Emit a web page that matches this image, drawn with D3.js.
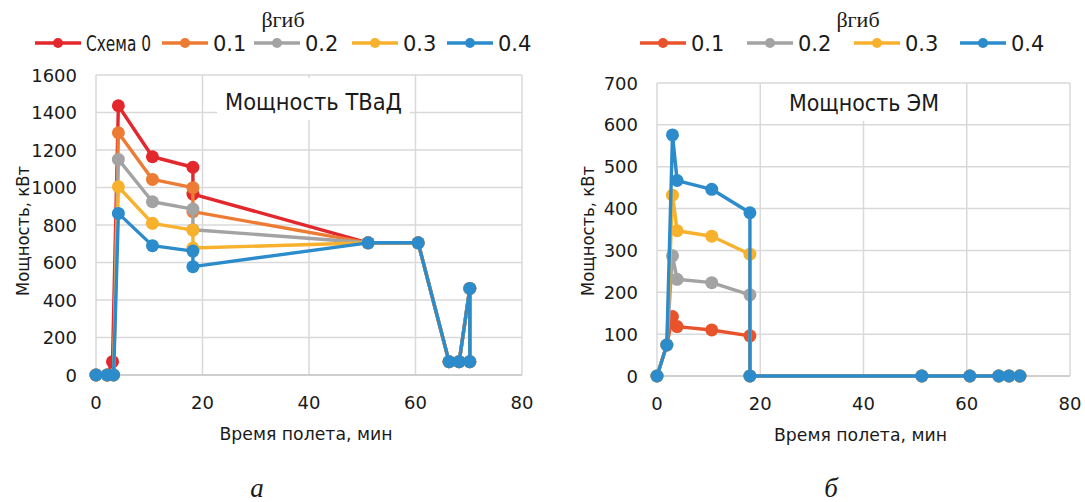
<!DOCTYPE html>
<html>
<head>
<meta charset="utf-8">
<script src="https://cdn.jsdelivr.net/npm/d3@7"></script>
<style>
  body { margin: 0; background: #fff; }
  text { font-family: "DejaVu Sans", sans-serif; fill: #1a1a1a; }
  .serif { font-family: "Liberation Serif", "DejaVu Serif", serif; }
</style>
</head>
<body>
<div id="chart"></div>
<script>
// ---- data: panel a (ТВаД power) ----
var xTicks = [0, 20, 40, 60, 80]
var tvadTicks = [0, 200, 400, 600, 800, 1000, 1200, 1400, 1600]
var tvadTimeRed = [0, 2.1, 3.1, 4.2, 10.6, 18.2, 18.2, 51.1, 60.5, 66.3, 68.2, 70.2, 70.2]
var tvadTime = [0, 2.1, 3.3, 4.2, 10.6, 18.2, 18.2, 51.1, 60.5, 66.3, 68.2, 70.2, 70.2]
var tvadScheme0 = [0, 0, 71, 1436, 1164, 1108, 965, 705, 705, 71, 71, 462, 71]
var tvad01 = [0, 0, 0, 1292, 1043, 999, 871, 705, 705, 71, 71, 462, 71]
var tvad02 = [0, 0, 0, 1150, 924, 885, 775, 705, 705, 71, 71, 462, 71]
var tvad03 = [0, 0, 0, 1004, 809, 773, 677, 705, 705, 71, 71, 462, 71]
var tvad04 = [0, 0, 0, 862, 690, 661, 578, 705, 705, 71, 71, 462, 71]

// ---- data: panel б (ЭМ power) ----
var emTicks = [0, 100, 200, 300, 400, 500, 600, 700]
var emTime = [0, 1.9, 3.0, 3.9, 10.6, 18.0, 18.0, 51.3, 60.6, 66.2, 68.2, 70.3]
var em01 = [0, 74, 142, 118, 110, 96, 0, 0, 0, 0, 0, 0]
var em02 = [0, 74, 287, 231, 223, 194, 0, 0, 0, 0, 0, 0]
var em03 = [0, 74, 432, 347, 334, 291, 0, 0, 0, 0, 0, 0]
var em04 = [0, 74, 576, 467, 446, 390, 0, 0, 0, 0, 0, 0]

var cRed = "#e3282d", cOrange = "#ec7b34", cGrey = "#a3a3a3", cYellow = "#f7b12c", cBlue = "#2b8bcb"
var cRed2 = "#e8532c"

var W = 1085, H = 502

var svg = d3.select("#chart").append("svg")
    .attr("width", W)
    .attr("height", H)

svg.append("rect").attr("width", W).attr("height", H).attr("fill", "#fff")

function zip(xs, ys) {
    return xs.map(function(x, i) { return [x, ys[i]] })
}

function panel(p) {
    var g = svg.append("g")
    var x = d3.scaleLinear().domain([0, 80]).range([p.left, p.right])
    var y = d3.scaleLinear().domain([0, p.ymax]).range([p.bottom, p.top])

    // grid
    g.selectAll("line.hg").data(p.yTicks).enter().append("line")
        .attr("x1", p.left).attr("x2", p.right)
        .attr("y1", function(d) { return y(d) }).attr("y2", function(d) { return y(d) })
        .attr("stroke", "#d9d9d9").attr("stroke-width", 1.5)
    g.selectAll("line.vg").data(xTicks).enter().append("line")
        .attr("y1", p.top).attr("y2", p.bottom)
        .attr("x1", function(d) { return x(d) }).attr("x2", function(d) { return x(d) })
        .attr("stroke", "#d9d9d9").attr("stroke-width", 1.5)
    g.append("line").attr("x1", p.left).attr("x2", p.right).attr("y1", p.bottom).attr("y2", p.bottom)
        .attr("stroke", "#c8c8c8").attr("stroke-width", 1.5)

    // tick labels
    g.selectAll("text.yt").data(p.yTicks).enter().append("text")
        .attr("x", p.left - 19).attr("y", function(d) { return y(d) + 6.5 })
        .attr("text-anchor", "end").attr("font-size", 18)
        .text(function(d) { return d })
    g.selectAll("text.xt").data(xTicks).enter().append("text")
        .attr("x", function(d) { return x(d) }).attr("y", p.bottom + 34)
        .attr("text-anchor", "middle").attr("font-size", 18)
        .text(function(d) { return d })

    // axis titles
    g.append("text")
        .attr("x", (p.left + p.right) / 2 - 3).attr("y", p.bottom + 65)
        .attr("text-anchor", "middle").attr("font-size", 18)
        .attr("textLength", 173).attr("lengthAdjust", "spacingAndGlyphs")
        .text("Время полета, мин")
    g.append("text")
        .attr("transform", "translate(" + [p.ytitleX, 231] + ") rotate(-90)")
        .attr("text-anchor", "middle").attr("font-size", 18)
        .attr("textLength", 130).attr("lengthAdjust", "spacingAndGlyphs")
        .text("Мощность, кВт")

    // title box
    g.append("rect")
        .attr("x", p.boxX).attr("y", p.boxY).attr("width", p.boxW).attr("height", p.boxH)
        .attr("fill", "#fff")
    g.append("text")
        .attr("x", p.boxX + p.boxW / 2).attr("y", p.boxY + p.boxH - 10)
        .attr("text-anchor", "middle").attr("font-size", 23)
        .attr("textLength", p.titleLen).attr("lengthAdjust", "spacingAndGlyphs")
        .text(p.title)

    // series
    var line = d3.line().x(function(d) { return x(d[0]) }).y(function(d) { return y(d[1]) })
    p.series.forEach(function(s) {
        var pts = zip(s.xs, s.ys)
        g.append("path").datum(pts)
            .attr("d", line).attr("fill", "none")
            .attr("stroke", s.color).attr("stroke-width", 3.4)
            .attr("stroke-linejoin", "round")
        g.selectAll(null).data(pts).enter().append("circle")
            .attr("cx", function(d) { return x(d[0]) })
            .attr("cy", function(d) { return y(d[1]) })
            .attr("r", 6.5).attr("fill", s.color)
    })

    // legend
    svg.append("text").attr("class", "serif")
        .attr("x", p.legTitleX).attr("y", 27)
        .attr("text-anchor", "middle").attr("font-size", 22)
        .text("βгиб")
    p.series.forEach(function(s, i) {
        var cx = p.legX[i]
        svg.append("line").attr("x1", cx - 23).attr("x2", cx + 23).attr("y1", 43).attr("y2", 43)
            .attr("stroke", s.color).attr("stroke-width", 3.4)
        svg.append("circle").attr("cx", cx).attr("cy", 43).attr("r", 5).attr("fill", s.color)
        var t = svg.append("text").attr("x", cx + 28).attr("y", 51).attr("font-size", 21).text(s.name)
        if (s.name.length > 3) t.attr("textLength", 65).attr("lengthAdjust", "spacingAndGlyphs")
    })

    // sub caption
    svg.append("text").attr("class", "serif")
        .attr("x", p.capX).attr("y", 497)
        .attr("text-anchor", "middle").attr("font-size", 27).attr("font-style", "italic")
        .text(p.caption)
}

panel({
    left: 96, right: 522, top: 75, bottom: 375, ymax: 1600, yTicks: tvadTicks,
    ytitleX: 29, boxX: 217, boxY: 78, boxW: 193, boxH: 42,
    title: "Мощность ТВаД", titleLen: 177,
    legTitleX: 283, legX: [58, 185, 277, 375, 470], capX: 257, caption: "а",
    series: [
        { name: "Схема 0", color: cRed, xs: tvadTimeRed, ys: tvadScheme0 },
        { name: "0.1", color: cOrange, xs: tvadTime, ys: tvad01 },
        { name: "0.2", color: cGrey, xs: tvadTime, ys: tvad02 },
        { name: "0.3", color: cYellow, xs: tvadTime, ys: tvad03 },
        { name: "0.4", color: cBlue, xs: tvadTime, ys: tvad04 }
    ]
})

panel({
    left: 657, right: 1070, top: 83, bottom: 376, ymax: 700, yTicks: emTicks,
    ytitleX: 594, boxX: 765, boxY: 84, boxW: 198, boxH: 37,
    title: "Мощность ЭМ", titleLen: 150,
    legTitleX: 858, legX: [663, 770, 877, 983], capX: 831, caption: "б",
    series: [
        { name: "0.1", color: cRed2, xs: emTime, ys: em01 },
        { name: "0.2", color: cGrey, xs: emTime, ys: em02 },
        { name: "0.3", color: cYellow, xs: emTime, ys: em03 },
        { name: "0.4", color: cBlue, xs: emTime, ys: em04 }
    ]
})
</script>
</body>
</html>
